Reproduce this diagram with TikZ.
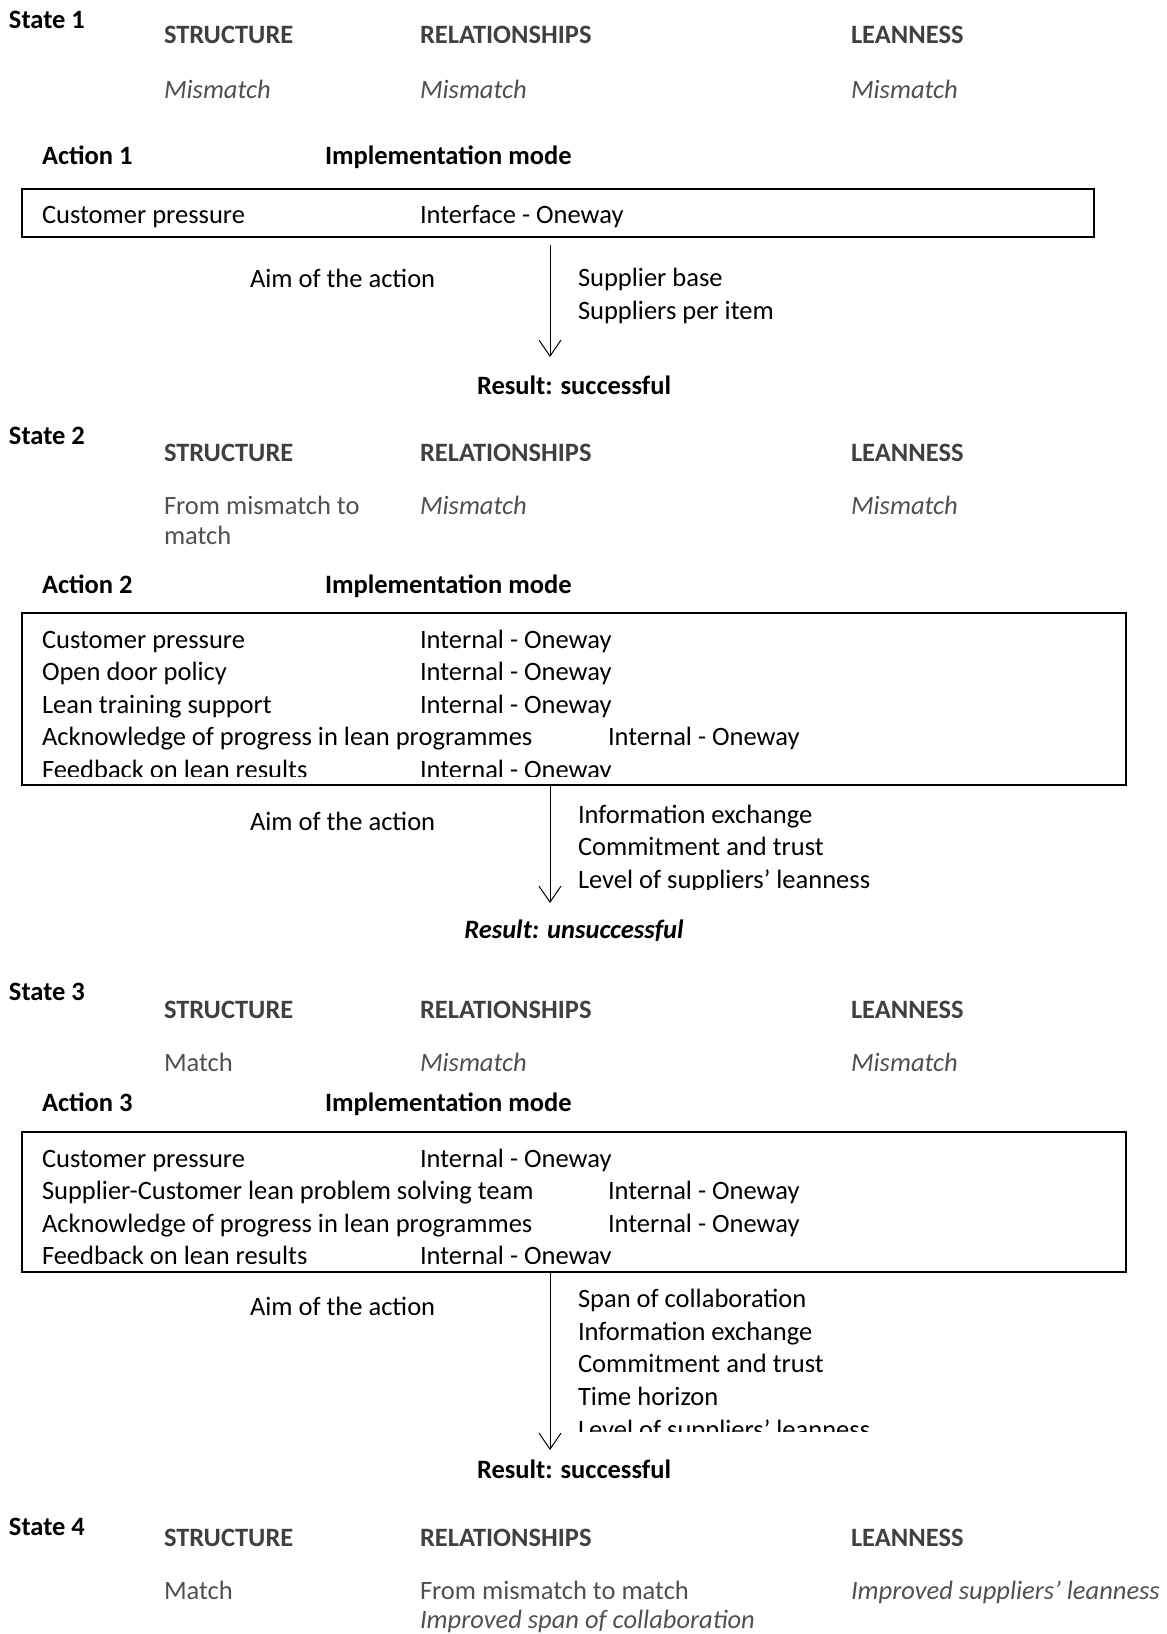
\documentclass[tikz,border=0pt]{standalone}
\usepackage{fontspec}
\setmainfont{Carlito}
\usepackage{tikz}
\usetikzlibrary{arrows.meta}
\definecolor{headgray}{RGB}{64, 64, 64}
\definecolor{valgray}{RGB}{80, 80, 80}

\begin{document}
\begin{tikzpicture}[x=0.5pt, y=-0.5pt,
  every node/.style={inner sep=0pt, outer sep=0pt, font=\fontsize{13.25}{16.25}\selectfont},
  statelbl/.style={anchor=base west, font=\fontsize{13.25}{16.25}\selectfont\bfseries},
  colhead/.style={anchor=base west, text=headgray, font=\fontsize{13.25}{16.25}\selectfont\bfseries},
  colval/.style={anchor=base west, text=valgray},
  colvalit/.style={anchor=base west, text=valgray, font=\fontsize{13.25}{16.25}\selectfont\itshape},
  actlbl/.style={anchor=base west, font=\fontsize{13.25}{16.25}\selectfont\bfseries},
  itemtxt/.style={anchor=base west},
  actbox/.style={draw, line width=1pt, anchor=north west},
  aimarrow/.style={line width=0.5pt, -{Straight Barb[length=8pt, width=11pt]}},
  reslbl/.style={anchor=base, font=\fontsize{13.25}{16.25}\selectfont\bfseries}]
  \useasboundingbox (0,0) rectangle (1167,1634);

  % State 1
  \node[statelbl] (state1) at (9,28) {State 1};
  \node[colhead] (struct1) at (164,43) {STRUCTURE};
  \node[colhead] (rel1) at (420,43) {RELATIONSHIPS};
  \node[colhead] (lean1) at (851,43) {LEANNESS};
  \node[colvalit] (structval1) at (164,98) {Mismatch};
  \node[colvalit] (relval1) at (420,98) {Mismatch};
  \node[colvalit] (leanval1) at (851,98) {Mismatch};

  % Action 1
  \node[actlbl] (action1) at (42,164) {Action 1};
  \node[actlbl] (mode1) at (325,164) {Implementation mode};
  \node[actbox, minimum width=536pt, minimum height=24pt] (box1) at (22,189) {};
  \node[itemtxt] (lever11) at (42,223) {Customer pressure};
  \node[itemtxt] (modeval11) at (420,223) {Interface - Oneway};
  \node[itemtxt] (aim1) at (250,287) {Aim of the action};
  \node[itemtxt] (target11) at (578,286) {Supplier base};
  \node[itemtxt] (target12) at (578,319) {Suppliers per item};
  \coordinate (tip1) at (550,357);
  \draw[aimarrow] ([yshift=-4pt]box1.south -| tip1) -- (tip1);
  \node[reslbl] (res1) at (574,394) {Result: successful};

  % State 2
  \node[statelbl] (state2) at (9,444) {State 2};
  \node[colhead] (struct2) at (164,461) {STRUCTURE};
  \node[colhead] (rel2) at (420,461) {RELATIONSHIPS};
  \node[colhead] (lean2) at (851,461) {LEANNESS};
  \node[colval] (structval2) at (164,514) {From mismatch to};
  \node[colval] (structval2b) at (164,544) {match};
  \node[colvalit] (relval2) at (420,514) {Mismatch};
  \node[colvalit] (leanval2) at (851,514) {Mismatch};

  % Action 2
  \node[actlbl] (action2) at (42,593) {Action 2};
  \node[actlbl] (mode2) at (325,593) {Implementation mode};
  \node[actbox, minimum width=552pt, minimum height=86pt] (box2) at (22,613) {};
  \begin{scope}
    \clip (box2.north west) rectangle ([yshift=4.5pt]box2.south east);
    \node[itemtxt] (lever21) at (42,648) {Customer pressure};
    \node[itemtxt] (modeval21) at (420,648) {Internal - Oneway};
    \node[itemtxt] (lever22) at (42,680.5) {Open door policy};
    \node[itemtxt] (modeval22) at (420,680.5) {Internal - Oneway};
    \node[itemtxt] (lever23) at (42,713) {Lean training support};
    \node[itemtxt] (modeval23) at (420,713) {Internal - Oneway};
    \node[itemtxt] (lever24) at (42,745.5) {Acknowledge of progress in lean programmes};
    \node[itemtxt] (modeval24) at (608,745.5) {Internal - Oneway};
    \node[itemtxt] (lever25) at (42,778) {Feedback on lean results};
    \node[itemtxt] (modeval25) at (420,778) {Internal - Oneway};
  \end{scope}
  \node[itemtxt] (aim2) at (250,830) {Aim of the action};
  \begin{scope}
    \clip (540,790) rectangle (1000,889);
    \node[itemtxt] (target21) at (578,823) {Information exchange};
    \node[itemtxt] (target22) at (578,855.5) {Commitment and trust};
    \node[itemtxt] (target23) at (578,888) {Level of suppliers’ leanness};
  \end{scope}
  \coordinate (tip2) at (550,903);
  \draw[aimarrow] (box2.south -| tip2) -- (tip2);
  \node[reslbl, font=\fontsize{13.25}{16.25}\selectfont\bfseries\itshape] (res2) at (574,938) {Result: unsuccessful};

  % State 3
  \node[statelbl] (state3) at (9,1000) {State 3};
  \node[colhead] (struct3) at (164,1018) {STRUCTURE};
  \node[colhead] (rel3) at (420,1018) {RELATIONSHIPS};
  \node[colhead] (lean3) at (851,1018) {LEANNESS};
  \node[colval] (structval3) at (164,1071) {Match};
  \node[colvalit] (relval3) at (420,1071) {Mismatch};
  \node[colvalit] (leanval3) at (851,1071) {Mismatch};

  % Action 3
  \node[actlbl] (action3) at (42,1111) {Action 3};
  \node[actlbl] (mode3) at (325,1111) {Implementation mode};
  \node[actbox, minimum width=552pt, minimum height=70pt] (box3) at (22,1132) {};
  \begin{scope}
    \clip (box3.north west) rectangle ([yshift=4.5pt]box3.south east);
    \node[itemtxt] (lever31) at (42,1167) {Customer pressure};
    \node[itemtxt] (modeval31) at (420,1167) {Internal - Oneway};
    \node[itemtxt] (lever32) at (42,1199.5) {Supplier-Customer lean problem solving team};
    \node[itemtxt] (modeval32) at (608,1199.5) {Internal - Oneway};
    \node[itemtxt] (lever33) at (42,1232) {Acknowledge of progress in lean programmes};
    \node[itemtxt] (modeval33) at (608,1232) {Internal - Oneway};
    \node[itemtxt] (lever34) at (42,1264.5) {Feedback on lean results};
    \node[itemtxt] (modeval34) at (420,1264.5) {Internal - Oneway};
  \end{scope}
  \node[itemtxt] (aim3) at (250,1315) {Aim of the action};
  \begin{scope}
    \clip (540,1280) rectangle (1000,1431);
    \node[itemtxt] (target31) at (578,1307) {Span of collaboration};
    \node[itemtxt] (target32) at (578,1340) {Information exchange};
    \node[itemtxt] (target33) at (578,1372.5) {Commitment and trust};
    \node[itemtxt] (target34) at (578,1405) {Time horizon};
    \node[itemtxt] (target35) at (578,1438) {Level of suppliers’ leanness};
  \end{scope}
  \coordinate (tip3) at (550,1450);
  \draw[aimarrow] (box3.south -| tip3) -- (tip3);
  \node[reslbl] (res3) at (574,1478) {Result: successful};

  % State 4
  \node[statelbl] (state4) at (9,1535) {State 4};
  \node[colhead] (struct4) at (164,1546) {STRUCTURE};
  \node[colhead] (rel4) at (420,1546) {RELATIONSHIPS};
  \node[colhead] (lean4) at (851,1546) {LEANNESS};
  \node[colval] (structval4) at (164,1599) {Match};
  \node[colval] (relval4) at (420,1599) {From mismatch to match};
  \node[colvalit] (relval4b) at (420,1628) {Improved span of collaboration};
  \node[colvalit] (leanval4) at (851,1599) {Improved suppliers’ leanness};
\end{tikzpicture}
\end{document}
